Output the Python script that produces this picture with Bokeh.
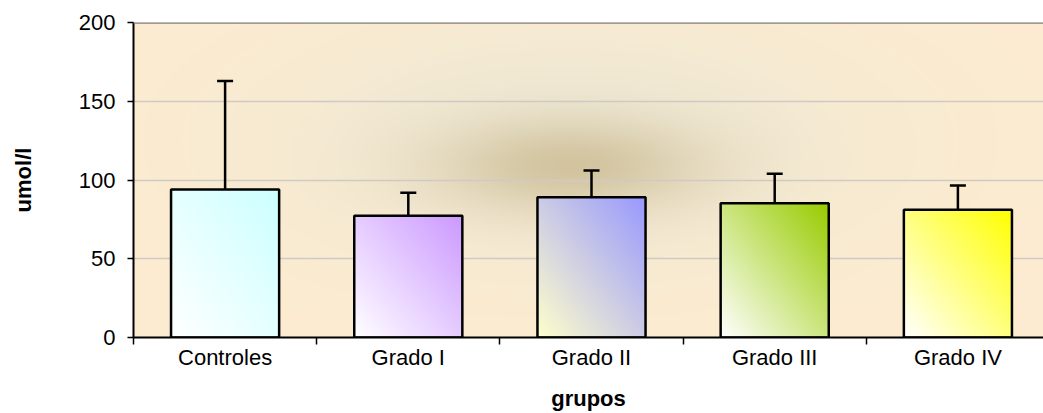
import numpy as np
from bokeh.plotting import figure
from bokeh.models import Range1d, FixedTicker, Whisker, TeeHead, ColumnDataSource, Span
from bokeh.embed import file_html
from bokeh.resources import INLINE

# ---- data ----
categories = ["Controles", "Grado I", "Grado II", "Grado III", "Grado IV"]
means = [94.0, 77.3, 89.1, 85.3, 81.1]
errors = [68.8, 14.6, 16.9, 18.6, 15.4]
y_ticks = [0, 50, 100, 150, 200]
bar_start = ["#FFFFFF", "#FFFFFF", "#FFFFCC", "#FFFFFF", "#FFFFFF"]
bar_end = ["#CCFFFF", "#CC99FF", "#9999FF", "#99CC00", "#FFFF00"]

# ---- layout constants ----
FRAME_L, FRAME_T, FRAME_B = 133, 22, 337
FIG_W, FIG_H = 1043, 413
PX_PER_CAT = 183.2
frame_w = FIG_W - FRAME_L
x_end = frame_w / PX_PER_CAT
BAR_W = 0.59

def hex2rgb(h):
    h = h.lstrip("#")
    return np.array([int(h[i:i + 2], 16) for i in (0, 2, 4)], dtype=float)

def pack(rgb):
    ny, nx, _ = rgb.shape
    img = np.empty((ny, nx), dtype=np.uint32)
    view = img.view(dtype=np.uint8).reshape((ny, nx, 4))
    view[:, :, 0:3] = np.clip(rgb, 0, 255).astype(np.uint8)
    view[:, :, 3] = 255
    return img

p = figure(width=FIG_W, height=FIG_H,
           x_range=Range1d(0, x_end), y_range=Range1d(0, 200),
           output_backend="svg", toolbar_location=None,
           min_border_left=FRAME_L, min_border_right=0,
           min_border_top=FRAME_T, min_border_bottom=FIG_H - FRAME_B)
p.background_fill_color = "#FDECD0"
p.border_fill_color = "white"
p.outline_line_color = None

# ---- background gradient (plot area) ----
nyb, nxb = 158, 455
cols = (np.arange(nxb) + 0.5) * frame_w / nxb + FRAME_L
rows = FRAME_B - (np.arange(nyb) + 0.5) * (FRAME_B - FRAME_T) / nyb
X, Y = np.meshgrid(cols, rows)
base = np.array([253, 236, 208], float)
haze = np.array([236, 232, 214], float)
dark = np.array([206, 190, 150], float)
f1 = np.exp(-(((X - 570) / 135) ** 2 + ((Y - 165) / 48) ** 2))
f2 = np.exp(-(((X - 570) / 300) ** 2 + ((Y - 140) / 125) ** 2))
a2 = (0.9 * f2)[..., None]
a1 = (0.85 * f1)[..., None]
c = base * (1 - a2) + haze * a2
c = c * (1 - a1) + dark * a1
p.image_rgba(image=[pack(c)], x=0, y=0, dw=x_end, dh=200, level="image")

# ---- bars with diagonal gradients ----
xs = [i + 0.5 for i in range(len(categories))]
ny, nx = 160, 110
u = np.linspace(0, 1, nx)[None, :]
v = np.linspace(0, 1, ny)[:, None]
t = ((u + v) / 2)[..., None]
imgs, ix, iw, ih = [], [], [], []
for i, m in enumerate(means):
    s, e = hex2rgb(bar_start[i]), hex2rgb(bar_end[i])
    imgs.append(pack(s + (e - s) * t))
    ix.append(xs[i] - BAR_W / 2)
    iw.append(BAR_W)
    ih.append(m)
p.image_rgba(image=imgs, x=ix, y=0, dw=iw, dh=ih)

src = ColumnDataSource(dict(x=xs, top=means,
                            upper=[m + e for m, e in zip(means, errors)]))
p.vbar(x="x", top="top", bottom=0, width=BAR_W, source=src,
       fill_alpha=0, line_color="black", line_width=2.5)

w = Whisker(base="x", lower="top", upper="upper", source=src,
            dimension="height", line_color="black", line_width=2.5,
            upper_head=TeeHead(size=16, line_color="black", line_width=2.5),
            lower_head=None)
p.add_layout(w)

p.add_layout(Span(location=200, dimension="width", line_color="#808080", line_width=2.5))

# ---- grid ----
p.xgrid.visible = False
p.ygrid.ticker = FixedTicker(ticks=y_ticks)
p.ygrid.grid_line_color = "#CFCAC4"
p.ygrid.grid_line_width = 1.5

# ---- axes ----
FONT = "Liberation Sans"
for ax in (p.xaxis[0], p.yaxis[0]):
    ax.axis_line_color = "black"
    ax.axis_line_width = 2
    ax.major_label_text_font = FONT
    ax.major_label_text_font_size = "22px"
    ax.major_label_text_color = "black"
    ax.axis_label_text_font = FONT
    ax.axis_label_text_font_size = "22px"
    ax.axis_label_text_font_style = "bold"
    ax.axis_label_text_color = "black"

p.xaxis.ticker = FixedTicker(ticks=xs, minor_ticks=list(range(len(categories) + 1)))
p.xaxis.major_label_overrides = {x: c for x, c in zip(xs, categories)}
p.xaxis.major_tick_out = 0
p.xaxis.major_tick_in = 0
p.xaxis.minor_tick_out = 7
p.xaxis.minor_tick_in = 0
p.xaxis.minor_tick_line_color = "black"
p.xaxis.minor_tick_line_width = 1.5
p.xaxis.major_label_standoff = 0
p.xaxis.axis_label = "grupos"
p.xaxis.axis_label_standoff = 13

p.yaxis.ticker = FixedTicker(ticks=y_ticks)
p.yaxis.major_tick_out = 6
p.yaxis.major_tick_in = 0
p.yaxis.major_tick_line_color = "black"
p.yaxis.major_tick_line_width = 1.5
p.yaxis.minor_tick_line_color = None
p.yaxis.major_label_standoff = 12
p.yaxis.axis_label = "umol/l"
p.yaxis.axis_label_standoff = 40

open("out.html", "w").write(file_html(p, INLINE))
